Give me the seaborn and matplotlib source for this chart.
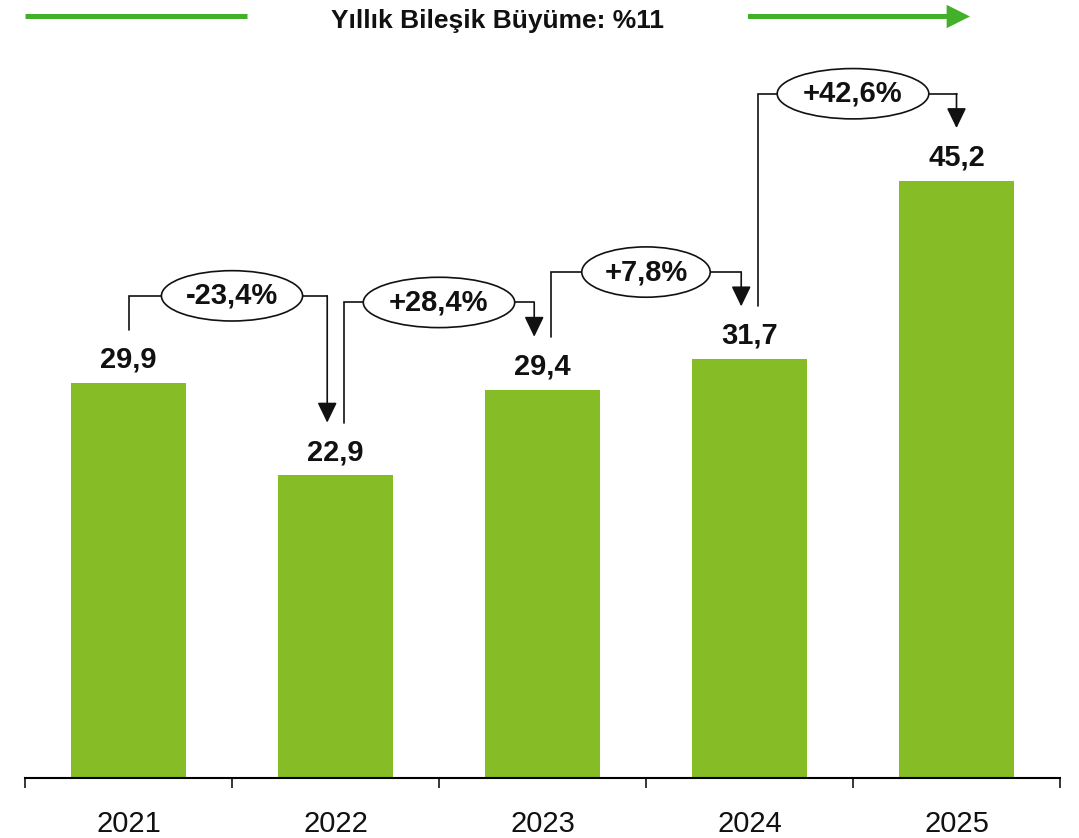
import matplotlib
matplotlib.use("Agg")
import matplotlib.pyplot as plt
import seaborn as sns
from matplotlib.patches import FancyArrowPatch
from matplotlib.lines import Line2D

# ---- data ----
years = ["2021", "2022", "2023", "2024", "2025"]
values = [29.9, 22.9, 29.4, 31.7, 45.2]
changes = ["-23,4%", "+28,4%", "+7,8%", "+42,6%"]
title_text = "Yıllık Bileşik Büyüme: %11"

BAR_GREEN = "#86BC25"
LINE_GREEN = "#43B02A"
INK = "#111111"

sns.set_style("white")
plt.rcParams["font.family"] = ["Liberation Sans", "DejaVu Sans"]

W, H = 1079, 838
fig = plt.figure(figsize=(W / 100, H / 100), dpi=100)
ax = fig.add_axes([25 / W, 60 / H, 1035 / W, 778 / H])

sns.barplot(x=years, y=values, color=BAR_GREEN, saturation=1, width=0.56,
            linewidth=0, ax=ax, zorder=2)

ax.set_xlim(-0.5, len(years) - 0.5)
ax.set_ylim(0, 778 / 13.21)

# axes styling
for s in ["top", "right", "left"]:
    ax.spines[s].set_visible(False)
ax.spines["bottom"].set_linewidth(1.5)
ax.spines["bottom"].set_color("black")
ax.set_yticks([])
ax.set_xlabel("")
ax.set_ylabel("")
ax.set_xticks([i - 0.5 for i in range(len(years) + 1)])
ax.set_xticklabels([])
ax.tick_params(axis="x", which="major", direction="out", length=7, width=1.1,
               color="black", bottom=True)
ax.set_xticks(range(len(years)), minor=True)
ax.set_xticklabels(years, minor=True, fontsize=21, color="#111111")
ax.tick_params(axis="x", which="minor", length=0, pad=23)

# value labels
for i, v in enumerate(values):
    ax.annotate(f"{v:.1f}".replace(".", ","), xy=(i, v), xytext=(0, 11),
                textcoords="offset points", ha="center", va="baseline",
                fontsize=21, fontweight="bold", color=INK, zorder=6)

# change brackets
dx = 0.04          # horizontal shift where a bar has incoming and outgoing links
gap = 4.0          # gap above bar top (data units)
rise = 6.6         # bracket height above the taller bar
n = len(values)
for i in range(n - 1):
    x0 = i + (dx if i > 0 else 0.0)
    x1 = (i + 1) - (dx if i + 1 < n - 1 else 0.0)
    y0 = values[i] + gap
    y1 = values[i + 1] + gap
    yl = max(values[i], values[i + 1]) + rise
    ax.plot([x0, x0, x1], [y0, yl, yl], color=INK, lw=1.2, zorder=3,
            solid_joinstyle="miter")
    ax.annotate("", xy=(x1, y1), xytext=(x1, yl),
                arrowprops=dict(arrowstyle="-|>,head_length=0.62,head_width=0.3",
                                mutation_scale=20, color=INK, lw=1.2,
                                shrinkA=0, shrinkB=0), zorder=3)
    ax.text((i + i + 1) / 2, yl, changes[i], ha="center", va="center",
            fontsize=21, fontweight="bold", color=INK, zorder=6,
            bbox=dict(boxstyle="ellipse,pad=0.13", fc="white", ec=INK, lw=1.2))

# top growth banner
yf = 1 - 16.5 / H
fig.add_artist(Line2D([25 / W, 247 / W], [yf, yf], color=LINE_GREEN, lw=3.6,
                      solid_capstyle="butt", transform=fig.transFigure))
fig.add_artist(FancyArrowPatch((748 / W, yf), (970 / W, yf),
                               transform=fig.transFigure,
                               arrowstyle="-|>,head_length=11,head_width=5.5",
                               mutation_scale=1, color=LINE_GREEN, lw=3.6,
                               shrinkA=0, shrinkB=0, capstyle="butt",
                               joinstyle="miter"))
fig.text(497 / W, 1 - 21 / H, title_text, ha="center", va="center",
         fontsize=19, fontweight="bold", color=INK)

fig.savefig("out.png", dpi=100)
